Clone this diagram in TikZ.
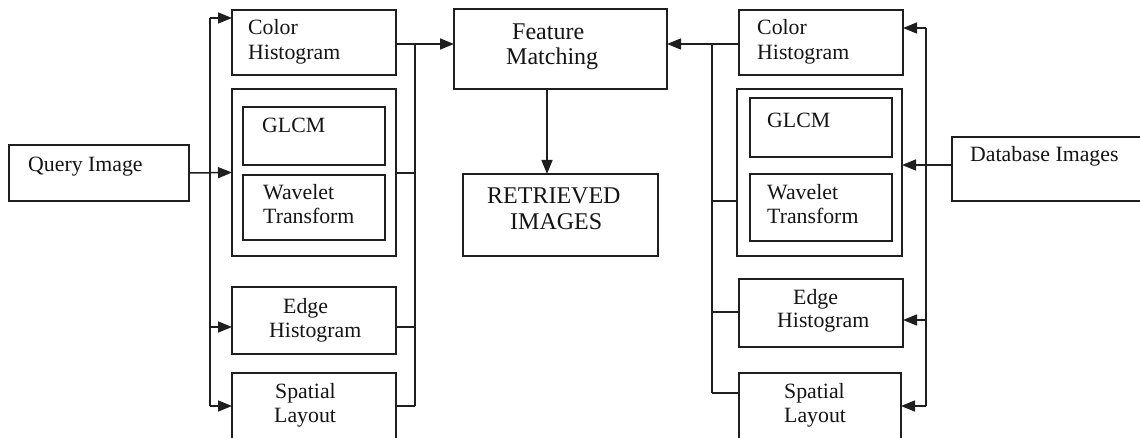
\documentclass[tikz,border=0pt]{standalone}
\usepackage{fontspec}
\setmainfont{Liberation Serif}
\usetikzlibrary{arrows.meta}
% rectangle node from its corner coordinates: name, x1, y1, x2, y2
\newcommand{\cbirbox}[5]{%
  \node[box, minimum width={#4-#2}, minimum height={#5-#3}] (#1)
    at ({(#2+#4)/2},{(#3+#5)/2}) {};}
\begin{document}
\begin{tikzpicture}[x=1pt, y=-1pt,
  box/.style={draw=black!88, line width=1.8pt, inner sep=0pt, outer sep=0pt},
  wire/.style={draw=black!88, line width=1.5pt},
  arr/.style={wire, -{Triangle[length=14pt 0 0, width=11pt 0 0]}},
  txt/.style={anchor=base west, inner sep=0pt, text=black!92,
    font=\fontsize{21.8}{25}\selectfont},
  bigtxt/.style={txt, font=\fontsize{24}{27}\selectfont}]
\path[use as bounding box] (0,0) rectangle (1140,438);
\clip (0,0) rectangle (1140,438);

% ---- query side ----
\cbirbox{qi}{9}{145}{189}{201}
\cbirbox{chL}{232}{10}{396}{75}
\cbirbox{txL}{232}{89}{396}{256}
\cbirbox{glL}{243}{107}{385}{165}
\cbirbox{wvL}{243}{175}{385}{240}
\cbirbox{ehL}{232}{287}{396}{354}
\cbirbox{slL}{232}{373}{396}{445}

\node[txt] at (28,172) {Query Image};
\node[txt] at (248,35) {Color};
\node[txt] at (248,60) {Histogram};
\node[txt] at (262,133) {GLCM};
\node[txt] at (263,200) {Wavelet};
\node[txt] at (263,224) {Transform};
\node[txt] at (283,313) {Edge};
\node[txt] at (269,337) {Histogram};
\node[txt] at (275,398) {Spatial};
\node[txt] at (274,422) {Layout};

% ---- centre ----
\cbirbox{fm}{454}{9}{667}{89}
\cbirbox{ri}{463}{174}{658}{256}
\node[bigtxt] at (512,40) {Feature};
\node[bigtxt] at (506,65) {Matching};
\node[bigtxt] at (487,204) {RETRIEVED};
\node[bigtxt] at (510,230) {IMAGES};

% ---- database side ----
\cbirbox{chR}{739}{10}{903}{75}
\cbirbox{txR}{737}{89}{902}{256}
\cbirbox{glR}{750}{98}{892}{157}
\cbirbox{wvR}{750}{174}{892}{241}
\cbirbox{ehR}{739}{279}{903}{347}
\cbirbox{slR}{739}{373}{901}{445}
\cbirbox{db}{952}{137}{1150}{201}

\node[txt] at (757,35) {Color};
\node[txt] at (757,60) {Histogram};
\node[txt] at (767,128) {GLCM};
\node[txt] at (767,200) {Wavelet};
\node[txt] at (767,224) {Transform};
\node[txt] at (793,304) {Edge};
\node[txt] at (777,327) {Histogram};
\node[txt] at (784,398) {Spatial};
\node[txt] at (784,422) {Layout};
\node[txt] at (970,162) {Database Images};

% ---- query fan-out bus ----
\coordinate (qbt) at (210,18);
\coordinate (qbb) at (210,406);
\draw[wire] (qbt) -- (qbb);
\draw[arr] (qi.east) -- (txL.west);
\draw[arr] (qbt) -- (qbt -| chL.west);
\draw[arr] (210,327) -- (210,327 -| ehL.west);
\draw[arr] (qbb) -- (qbb -| slL.west);

% ---- query features to matching ----
\coordinate (lot) at (415,44);
\coordinate (lob) at (415,406);
\draw[wire] (lot) -- (lob);
\draw[arr] (lot -| chL.east) -- (lot -| fm.west);
\draw[wire] (txL.east |- 0,173) -- (415,173);
\draw[wire] (ehL.east |- 0,327) -- (415,327);
\draw[wire] (slL.east |- lob) -- (lob);

% ---- matching to results ----
\draw[arr] (547,89) -- (547,174);

% ---- database features to matching ----
\coordinate (rot) at (712,44);
\coordinate (rob) at (712,393);
\draw[wire] (rot) -- (rob);
\draw[arr] (rot -| chR.west) -- (rot -| fm.east);
\draw[wire] (txR.west |- 0,201) -- (712,201);
\draw[wire] (ehR.west |- 0,312) -- (712,312);
\draw[wire] (slR.west |- rob) -- (rob);

% ---- database fan-out bus ----
\coordinate (dbt) at (926,28);
\coordinate (dbb) at (926,406);
\draw[wire] (dbt) -- (dbb);
\draw[wire] (db.west |- 0,165) -- (926,165);
\draw[arr] (926,165) -- (txR.east |- 0,165);
\draw[arr] (dbt) -- (dbt -| chR.east);
\draw[arr] (926,320) -- (ehR.east |- 0,320);
\draw[arr] (dbb) -- (dbb -| slR.east);
\end{tikzpicture}
\end{document}
